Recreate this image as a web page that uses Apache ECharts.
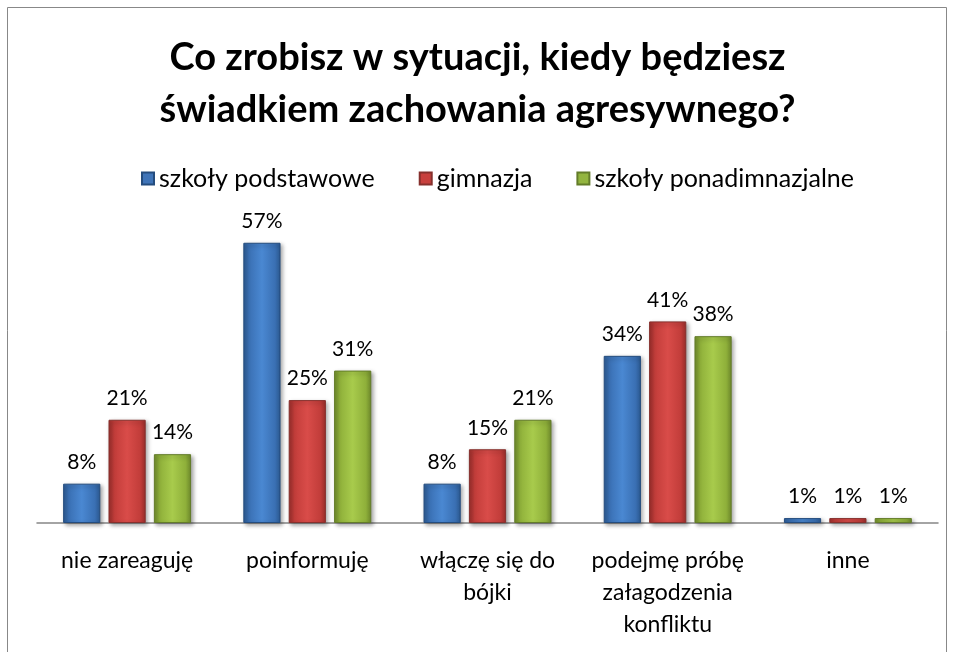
<!DOCTYPE html>
<html>
<head>
<meta charset="utf-8">
<script src="https://cdn.jsdelivr.net/npm/echarts@6/dist/echarts.min.js"></script>
<style>
  html, body { margin: 0; padding: 0; background: #fff; }
  #chart { width: 955px; height: 652px; }
</style>
</head>
<body>
<div id="chart"></div>
<script>
// dane z wykresu
const categories = ['nie zareaguję', 'poinformuję', 'włączę się do\nbójki', 'podejmę próbę\nzałagodzenia\nkonfliktu', 'inne'];
const seriesNames = ['szkoły podstawowe', 'gimnazja', 'szkoły ponadimnazjalne'];
const podstawowe = [8, 57, 8, 34, 1];
const gimnazja = [21, 25, 15, 41, 1];
const ponadgimnazjalne = [14, 31, 21, 38, 1];

const font = 'Lato, "Open Sans", sans-serif';

// kolory w stylu Excela: ciemny brzeg, jasny środek
function barColor(dark, mid, light) {
  return new echarts.graphic.LinearGradient(0, 0, 1, 0, [
    { offset: 0, color: dark },
    { offset: 0.15, color: mid },
    { offset: 0.5, color: light },
    { offset: 0.85, color: mid },
    { offset: 1, color: dark }
  ]);
}
const colors = [
  barColor('#2c5a92', '#3a70b4', '#4a88d2'),
  barColor('#9a2e2b', '#c23d3a', '#d94c49'),
  barColor('#6f8a2c', '#8fb03a', '#a8cb4c')
];
const borders = ['#244c7e', '#86302d', '#637c29'];
const legendColors = ['#3f74b8', '#c8403d', '#93b53f'];

function makeSeries(name, data, i) {
  return {
    name: name,
    type: 'bar',
    data: data,
    barGap: '22%',
    barCategoryGap: '29%',
    itemStyle: {
      color: colors[i],
      borderColor: borders[i],
      borderWidth: 1,
      shadowColor: 'rgba(0,0,0,0.35)',
      shadowBlur: 4,
      shadowOffsetX: 2,
      shadowOffsetY: 2
    },
    label: {
      show: true,
      position: 'top',
      distance: 11,
      formatter: '{c}%',
      fontFamily: font,
      fontSize: 21,
      color: '#000'
    }
  };
}

const chart = echarts.init(document.getElementById('chart'));
chart.setOption({
  animation: false,
  backgroundColor: '#fff',
  graphic: [{
    type: 'rect',
    shape: { x: 7.5, y: 7.5, width: 939, height: 660 },
    style: { fill: 'none', stroke: '#888', lineWidth: 1 },
    silent: true
  }],
  title: {
    text: 'Co zrobisz w sytuacji, kiedy będziesz\nświadkiem zachowania agresywnego?',
    left: 'center',
    top: 27,
    textStyle: {
      fontFamily: font,
      fontWeight: 'bold',
      fontSize: 38,
      lineHeight: 52,
      color: '#000'
    }
  },
  legend: {
    top: 161,
    left: 136,
    itemWidth: 12,
    itemHeight: 12,
    itemGap: 44,
    icon: 'rect',
    data: seriesNames.map((n, i) => ({ name: n, itemStyle: { color: legendColors[i] } })),
    textStyle: { fontFamily: font, fontSize: 25, color: '#000' }
  },
  grid: { left: 37, right: 17, top: 228, bottom: 129 },
  xAxis: {
    type: 'category',
    data: categories,
    axisLine: { lineStyle: { color: '#868686', width: 1.5 } },
    axisTick: { show: false },
    axisLabel: {
      interval: 0,
      margin: 22,
      fontFamily: font,
      fontSize: 23,
      lineHeight: 32,
      color: '#000'
    }
  },
  yAxis: {
    type: 'value',
    min: 0,
    max: 60,
    show: false,
    splitLine: { show: false }
  },
  series: [
    makeSeries(seriesNames[0], podstawowe, 0),
    makeSeries(seriesNames[1], gimnazja, 1),
    makeSeries(seriesNames[2], ponadgimnazjalne, 2)
  ]
});
</script>
</body>
</html>
